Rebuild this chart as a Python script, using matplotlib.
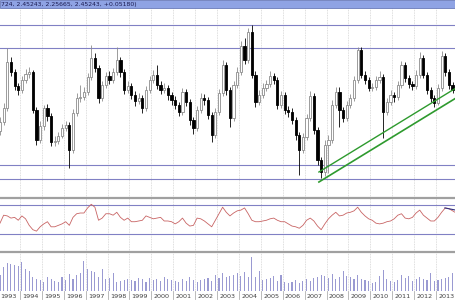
"""Candlestick chart with an oscillator panel and a volume panel, 1993-2013."""

import matplotlib
matplotlib.use("Agg")
import matplotlib.pyplot as plt
import numpy as np
from matplotlib.patches import Rectangle
from matplotlib.transforms import blended_transform_factory

# bimonthly candles, starting early 1993
start_year = 1993.087
step = 1 / 6

first_open = 2.02
closes = [
    2.11, 2.25, 2.71, 2.61, 2.47, 2.43, 2.53, 2.59, 2.61, 2.23,
    1.93, 2.07, 2.25, 2.17, 1.91, 1.92, 1.97, 2.05, 2.08, 1.83,
    2.20, 2.35, 2.36, 2.41, 2.56, 2.75, 2.65, 2.35, 2.48, 2.57,
    2.53, 2.61, 2.73, 2.61, 2.43, 2.47, 2.38, 2.32, 2.35, 2.25,
    2.43, 2.53, 2.58, 2.48, 2.43, 2.45, 2.38, 2.33, 2.28, 2.21,
    2.41, 2.31, 2.13, 2.05, 2.23, 2.35, 2.33, 2.18, 1.98, 2.21,
    2.40, 2.68, 2.43, 2.15, 2.48, 2.61, 2.87, 2.73, 3.01, 2.58,
    2.31, 2.38, 2.45, 2.49, 2.57, 2.53, 2.28, 2.38, 2.23, 2.21,
    2.13, 1.98, 1.83, 1.96, 2.15, 2.37, 2.03, 1.73, 1.61, 1.88,
    1.93, 2.28, 2.41, 2.23, 2.15, 2.28, 2.35, 2.53, 2.83, 2.58,
    2.53, 2.45, 2.46, 2.53, 2.56, 2.21, 2.31, 2.38, 2.36, 2.48,
    2.68, 2.55, 2.49, 2.47, 2.58, 2.75, 2.58, 2.43, 2.35, 2.30,
    2.45, 2.77, 2.61, 2.48, 2.43, 2.45,
]
highs = [
    2.16, 2.30, 2.85, 2.76, 2.64, 2.50, 2.57, 2.64, 2.66, 2.63,
    2.26, 2.12, 2.28, 2.29, 2.20, 1.97, 2.01, 2.09, 2.12, 2.11,
    2.24, 2.40, 2.48, 2.46, 2.60, 2.88, 2.80, 2.68, 2.52, 2.61,
    2.62, 2.65, 2.86, 2.76, 2.64, 2.52, 2.50, 2.42, 2.40, 2.38,
    2.47, 2.57, 2.63, 2.68, 2.52, 2.50, 2.48, 2.41, 2.37, 2.31,
    2.45, 2.44, 2.34, 2.16, 2.27, 2.40, 2.39, 2.36, 2.21, 2.25,
    2.44, 2.73, 2.71, 2.46, 2.52, 2.66, 2.92, 2.95, 3.05, 3.08,
    2.62, 2.43, 2.50, 2.53, 2.62, 2.60, 2.56, 2.42, 2.41, 2.27,
    2.25, 2.16, 2.01, 2.00, 2.19, 2.42, 2.40, 2.06, 1.76, 1.93,
    1.98, 2.33, 2.46, 2.46, 2.26, 2.32, 2.39, 2.57, 2.86, 2.86,
    2.62, 2.56, 2.50, 2.57, 2.62, 2.59, 2.35, 2.43, 2.41, 2.52,
    2.72, 2.71, 2.58, 2.52, 2.63, 2.81, 2.78, 2.61, 2.46, 2.38,
    2.49, 2.82, 2.80, 2.64, 2.51, 2.47,
]
lows = [
    1.98, 2.08, 2.22, 2.57, 2.43, 2.38, 2.40, 2.50, 2.55, 2.20,
    1.88, 1.90, 2.03, 2.12, 1.87, 1.87, 1.89, 1.95, 2.02, 1.65,
    1.80, 2.17, 2.31, 2.33, 2.38, 2.53, 2.61, 2.30, 2.32, 2.45,
    2.49, 2.50, 2.58, 2.56, 2.39, 2.40, 2.34, 2.27, 2.29, 2.20,
    2.22, 2.40, 2.50, 2.44, 2.39, 2.40, 2.33, 2.28, 2.24, 2.17,
    2.18, 2.27, 2.08, 1.99, 2.02, 2.20, 2.28, 2.14, 1.91, 1.95,
    2.18, 2.37, 2.38, 2.06, 2.12, 2.45, 2.58, 2.69, 2.70, 2.55,
    2.26, 2.28, 2.35, 2.42, 2.46, 2.49, 2.24, 2.25, 2.19, 2.16,
    2.09, 1.93, 1.58, 1.80, 1.93, 2.12, 1.99, 1.68, 1.55, 1.57,
    1.60, 1.90, 2.25, 2.06, 2.11, 2.12, 2.25, 2.32, 2.50, 2.55,
    2.49, 2.42, 2.42, 2.43, 2.50, 1.95, 2.18, 2.28, 2.31, 2.33,
    2.45, 2.51, 2.45, 2.43, 2.44, 2.55, 2.55, 2.39, 2.31, 2.26,
    2.28, 2.42, 2.57, 2.44, 2.40, 2.41,
]

# oscillator (RSI-like), one reading per candle
rsi = [
    45, 56, 55, 52, 53, 49, 55, 51, 42, 36,
    34, 40, 44, 47, 40, 40, 42, 44, 47, 42,
    53, 58, 59, 59, 66, 71, 67, 49, 52, 58,
    58, 56, 60, 53, 49, 52, 47, 47, 48, 49,
    55, 53, 51, 52, 53, 48, 48, 47, 44, 47,
    52, 45, 41, 42, 52, 51, 48, 44, 40, 49,
    58, 67, 60, 55, 59, 62, 63, 66, 58, 49,
    47, 47, 48, 49, 51, 52, 49, 47, 47, 44,
    41, 40, 38, 42, 49, 52, 48, 41, 36, 44,
    51, 56, 60, 55, 56, 59, 60, 62, 67, 60,
    55, 51, 49, 45, 44, 45, 47, 48, 51, 56,
    58, 52, 51, 53, 59, 63, 56, 52, 48, 48,
    53, 60, 66, 65, 62, 59,
]
# short signal segment at the right end
signal_x = [2013.4, 2013.9]
signal_y = [66, 63]

volume = [
    16, 24, 28, 27, 26, 25, 29, 22, 20, 14,
    12, 11, 9, 14, 12, 10, 9, 14, 11, 17,
    12, 16, 18, 30, 22, 20, 19, 14, 22, 12,
    13, 18, 9, 10, 11, 12, 11, 10, 13, 12,
    9, 13, 11, 12, 10, 14, 12, 11, 10, 9,
    12, 10, 14, 11, 9, 11, 12, 13, 10, 16,
    13, 18, 14, 15, 16, 18, 15, 19, 14, 34,
    14, 20, 11, 12, 13, 15, 10, 16, 9, 8,
    9, 11, 8, 10, 12, 10, 13, 14, 16, 15,
    13, 17, 12, 14, 20, 15, 14, 12, 16, 12,
    11, 10, 8, 9, 15, 21, 12, 10, 9, 11,
    16, 13, 15, 10, 12, 14, 12, 11, 18, 10,
    11, 12, 13, 14, 18, 16,
]

# support/resistance levels and the rising channel
levels = [3.08, 2.85, 1.68, 1.545]
channel_x = [2007.65, 2013.91]
channel_upper = [1.61, 2.45]
channel_lower = [1.51, 2.35]
rsi_levels = [70, 30]

years = list(range(1993, 2014))
title_text = "724, 2.45243, 2.25665, 2.45243, +0.05180)"

x = start_year + step * np.arange(len(closes))
opens = np.array([first_open] + closes[:-1])
closes = np.array(closes)
up = closes >= opens

fig = plt.figure(figsize=(4.56, 3.0), dpi=100)
ax_p = fig.add_axes([0, 0.3433, 1, 0.63])
ax_r = fig.add_axes([0, 0.1633, 1, 0.1767])
ax_v = fig.add_axes([0, 0.03, 1, 0.13])

xlim = (1993.087, 2013.91)
grid_kw = dict(color="#d4d4d4", lw=0.6, ls=(0, (1, 1)))
for ax in (ax_p, ax_r, ax_v):
    ax.set_xlim(*xlim)
    ax.set_yticks([])
    ax.set_xticks([])
    for s in ("left", "right", "bottom", "top"):
        ax.spines[s].set_visible(False)
    for yr in years:
        ax.axvline(yr, zorder=0, **grid_kw)

# price panel
ax_p.set_ylim(1.36, 3.25)
for lv in levels:
    ax_p.axhline(lv, color="#8080c4", lw=0.8, zorder=1)

body_w = 0.1
ax_p.vlines(x[up], np.array(lows)[up], np.array(highs)[up], color="#8c8c8c", lw=0.6, zorder=2)
ax_p.vlines(x[~up], np.array(lows)[~up], np.array(highs)[~up], color="black", lw=0.6, zorder=2)
bottoms = np.minimum(opens, closes)
heights = np.maximum(np.abs(closes - opens), 0.008)
ax_p.bar(x[up], heights[up], bottom=bottoms[up], width=body_w,
         color="white", edgecolor="#8c8c8c", lw=0.6, zorder=3)
ax_p.bar(x[~up], heights[~up], bottom=bottoms[~up], width=body_w,
         color="black", edgecolor="black", lw=0.6, zorder=3)

ax_p.plot(channel_x, channel_upper, color="#2e9a2e", lw=1.0, zorder=4)
ax_p.plot(channel_x, channel_lower, color="#2e9a2e", lw=1.2, zorder=4)

# oscillator panel
ax_r.set_ylim(6.6, 79.7)
for lv in rsi_levels:
    ax_r.axhline(lv, color="#8080c4", lw=0.8, zorder=1)
ax_r.plot(x, rsi, color="#c86464", lw=0.6, zorder=2)
ax_r.plot(signal_x, signal_y, color="#303080", lw=0.8, zorder=3)
ax_r.spines["top"].set_visible(True)
ax_r.spines["top"].set_color("#a0a0a0")
ax_r.spines["top"].set_linewidth(1.6)

# volume panel
ax_v.set_ylim(0, 39)
ax_v.bar(x, volume, width=0.05, color="#9a9ad2", edgecolor="none", zorder=2)
ax_v.spines["top"].set_visible(True)
ax_v.spines["top"].set_color("#a0a0a0")
ax_v.spines["top"].set_linewidth(1.6)

# year labels with separators below the volume panel
trans = blended_transform_factory(ax_v.transData, ax_v.transAxes)
for yr in years:
    ax_v.plot([yr, yr], [0, -0.2], color="#b0b0b0", lw=0.6, transform=trans, clip_on=False)
    ax_v.text(yr + 0.1, -0.13, str(yr), transform=trans, fontsize=4.6,
              color="#404040", ha="left", va="center", clip_on=False)

# blue title bar
fig.patches.append(Rectangle((0, 1 - 8 / 300), 1, 8 / 300, transform=fig.transFigure,
                             facecolor="#8fa3e4", edgecolor="#6a7ab8", lw=0.6, zorder=5))
fig.text(0.003, 1 - 4.5 / 300, title_text, fontsize=4.4, color="#1a1a50",
         ha="left", va="center", zorder=6)

fig.savefig("out.png", dpi=100)
